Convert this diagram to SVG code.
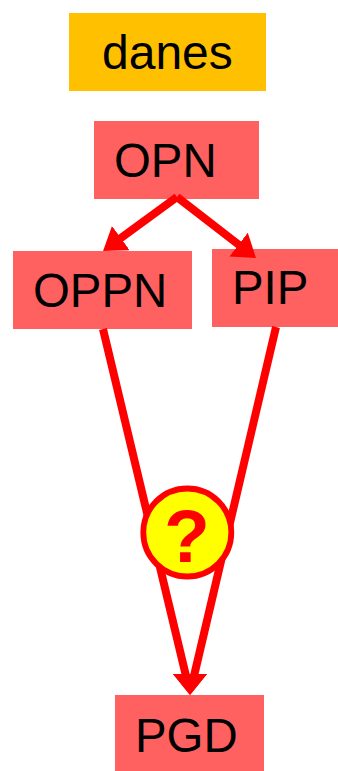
<svg xmlns="http://www.w3.org/2000/svg" width="338" height="771" viewBox="0 0 338 771">
<style>
.t{font-family:"Liberation Sans",Arial,sans-serif;font-size:48px;fill:#000}
.u{font-size:47.4px}
.n{fill:#FF6161}
.c{fill:none;stroke:#F00;stroke-width:8}
</style>
<defs>
<marker id="a" markerUnits="userSpaceOnUse" markerWidth="26" markerHeight="32" refX="2" refY="15" orient="auto"><path d="M0,0L22,15L0,30z" fill="#F00"/></marker>
<marker id="b" markerUnits="userSpaceOnUse" markerWidth="26" markerHeight="36" refX="2" refY="21" orient="90"><path d="M0,0L21,17L0,34z" fill="#F00"/></marker>
<marker id="d" markerUnits="userSpaceOnUse" markerWidth="26" markerHeight="36" refX="2" refY="13" orient="90"><path d="M0,0L21,17L0,34z" fill="#F00"/></marker>
</defs>
<rect width="338" height="771" fill="#fff"/>
<g id="danes"><rect x="69" y="13" width="197" height="78" fill="#FFC000"/><text class="t" x="102" y="69">danes</text></g>
<g id="OPN"><rect class="n" x="94" y="121" width="165" height="78"/><text class="t u" x="114" y="177">OPN</text></g>
<g id="OPPN"><rect class="n" x="13" y="251" width="179" height="78"/><text class="t u" x="33" y="307">OPPN</text></g>
<g id="PIP"><rect class="n" x="212" y="249" width="126" height="78"/><text class="t u" x="232" y="304">PIP</text></g>
<g id="PGD"><rect class="n" x="115" y="695" width="149" height="76"/><text class="t u" x="135" y="752">PGD</text></g>
<g id="connectors">
<path class="c" d="M177,197L119.2,239.2" marker-end="url(#a)"/>
<path class="c" d="M177,197L240.2,245.8" marker-end="url(#a)"/>
<path class="c" d="M103,329L186,676" marker-end="url(#b)"/>
<path class="c" d="M276,327L194,676" marker-end="url(#d)"/>
</g>
<g id="question"><circle cx="187.3" cy="532.5" r="44" fill="#FF0" stroke="#F00" stroke-width="5.8"/><text x="187" y="561.5" text-anchor="middle" style="font-family:'Liberation Sans',Arial,sans-serif;font-size:75px;font-weight:bold;fill:#F00">?</text></g>
</svg>
